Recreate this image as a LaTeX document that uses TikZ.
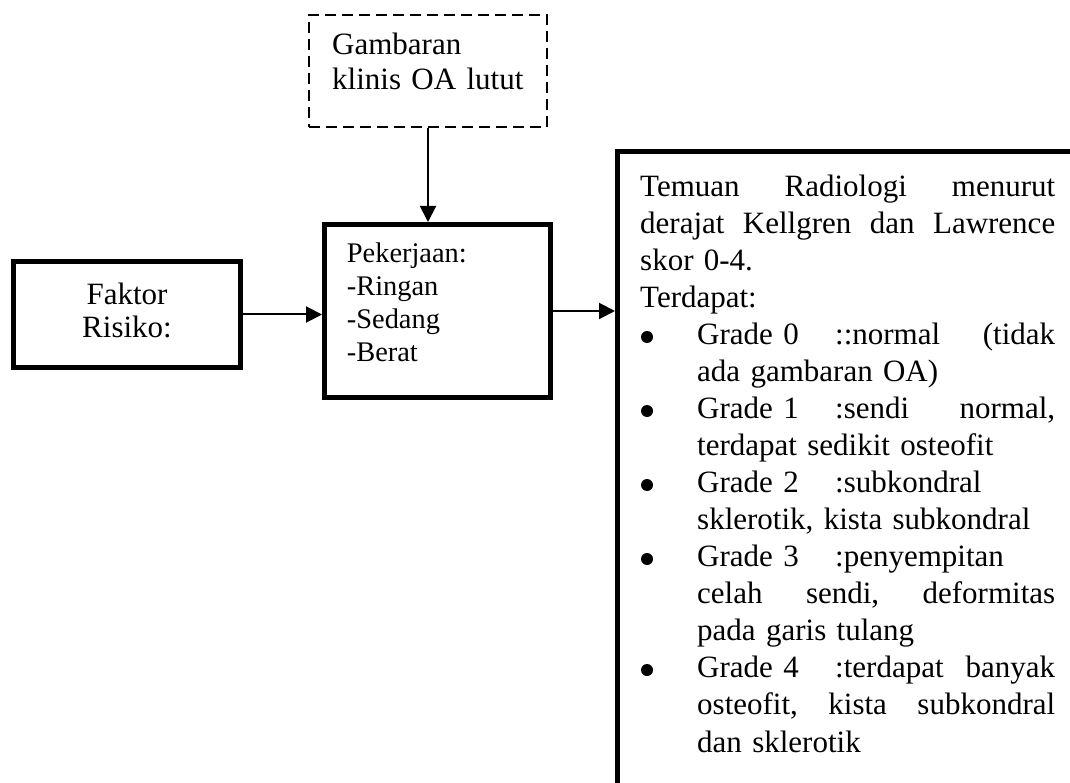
\documentclass[tikz,border=0pt]{standalone}
\usepackage{fontspec}
\setmainfont{Liberation Serif}
\usetikzlibrary{arrows.meta}
\newcommand\jline[1]{\hbox to 415pt{#1}\par}
\newcommand\lline[1]{\hbox to 415pt{#1\hfil}\par}
\newcommand\gline[2]{\hbox to 415pt{\hspace*{57pt}\hbox to 138pt{#1\hfil}\hbox to 220pt{#2}}\par}
\newcommand\glinel[2]{\hbox to 415pt{\hspace*{57pt}\hbox to 138pt{#1\hfil}#2\hfil}\par}
\newcommand\ijline[1]{\hbox to 415pt{\hspace*{57pt}\hbox to 358pt{#1}}\par}
\newcommand\illine[1]{\hbox to 415pt{\hspace*{57pt}#1\hfil}\par}
\begin{document}
\begin{tikzpicture}[x=1pt,y=-1pt,
  thickbox/.style={draw, line width=5pt, inner sep=0pt, rectangle},
  dashbox/.style={draw, line width=2pt, dash pattern=on 11pt off 6pt, inner sep=0pt, rectangle},
  arr/.style={line width=2pt, -{Triangle[length=16pt,width=16pt]}},
  txt/.style={inner sep=0pt, font=\fontsize{31}{33}\selectfont},
  bul/.style={circle, fill=black, inner sep=0pt, minimum size=12pt}
]
\useasboundingbox (0,0) rectangle (1070,783);
\fill[white] (0,0) rectangle (1070,783);
\clip (0,0) rectangle (1070,783);

% boxes
\node[thickbox, minimum width=227pt, minimum height=106pt] (faktor) at (127,314.5) {};
\node[thickbox, minimum width=226pt, minimum height=173pt] (pek) at (437.5,311) {};
\node[dashbox, minimum width=238pt, minimum height=112pt] (gamb) at (428,71) {};
\node[thickbox, minimum width=482.5pt, minimum height=668.5pt] (big) at (858.75,485.75) {};

% texts
\node[txt, anchor=base, text width=200pt, align=center] (tfaktor) at (127,305) {Faktor\\Risiko:};
\node[txt, anchor=base west, text width=220pt, align=left, font=\fontsize{31}{35}\selectfont] (tgamb) at (332,55) {Gambaran\\klinis OA lutut};
\node[txt, anchor=base west, text width=200pt, align=left, font=\fontsize{28.4}{33}\selectfont] (tpek) at (346.7,263) {Pekerjaan:\\-Ringan\\-Sedang\\-Berat};
\node[txt, anchor=base west, text width=415pt, font=\fontsize{31}{37}\selectfont] (tbig) at (640,197) {%
\jline{Temuan\hfill Radiologi\hfill menurut}%
\jline{derajat\hfill Kellgren\hfill dan\hfill Lawrence}%
\lline{skor 0-4.}%
\lline{Terdapat:}%
\gline{Grade 0}{::normal\hfill (tidak}%
\illine{ada gambaran OA)}%
\gline{Grade 1}{:sendi\hfill normal,}%
\illine{terdapat sedikit osteofit}%
\glinel{Grade 2}{:subkondral}%
\illine{sklerotik, kista subkondral}%
\glinel{Grade 3}{:penyempitan}%
\ijline{celah\hfill sendi,\hfill deformitas}%
\illine{pada garis tulang}%
\gline{Grade 4}{:terdapat\hfill banyak}%
\ijline{osteofit,\hfill kista\hfill subkondral}%
\illine{dan sklerotik}};

% bullets
\node[bul] (b0) at (647,337) {};
\node[bul] (b1) at (647,411) {};
\node[bul] (b2) at (647,485) {};
\node[bul] (b3) at (647,559) {};
\node[bul] (b4) at (647,670) {};

% arrows
\draw[arr] (faktor.east) -- (faktor.east -| pek.west);
\draw[arr] (gamb.south) -- (gamb.south |- pek.north);
\draw[arr] (pek.east) -- (pek.east -| big.west);
\end{tikzpicture}
\end{document}
